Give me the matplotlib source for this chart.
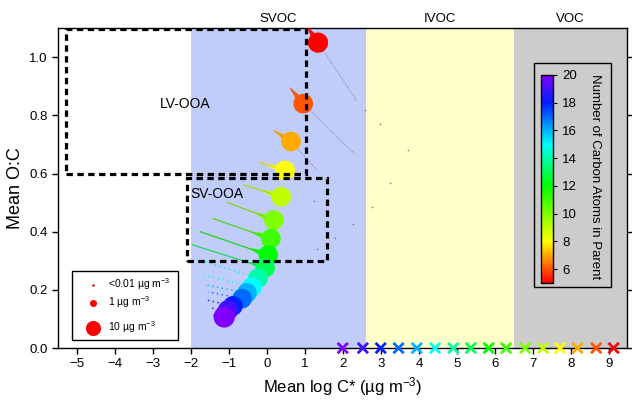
import numpy as np
import matplotlib
matplotlib.use("Agg")
import matplotlib.pyplot as plt
from matplotlib.colors import LinearSegmentedColormap, Normalize
from matplotlib.patches import Rectangle, Polygon

plt.rcParams['font.family'] = ['Liberation Sans', 'DejaVu Sans']
plt.rcParams['mathtext.fontset'] = 'custom'
plt.rcParams['mathtext.rm'] = 'Liberation Sans'
plt.rcParams['mathtext.default'] = 'regular'

# ----- Datos -----

# numero de carbonos del precursor
carbonos = [5, 6, 7, 8, 9, 10, 11, 12, 13, 14, 15, 16, 17, 18, 19, 20]

# posicion final (log C*, O:C) y masa (ug m-3) de cada precursor
logc_medio = [1.34, 0.95, 0.63, 0.47, 0.37, 0.18, 0.10, 0.03, -0.05, -0.24, -0.40, -0.53, -0.66, -0.90, -1.03, -1.13]
oc_medio = [1.05, 0.84, 0.71, 0.61, 0.52, 0.44, 0.376, 0.32, 0.276, 0.24, 0.21, 0.19, 0.17, 0.145, 0.13, 0.107]
masa = [24, 22, 22, 22, 22, 22, 22, 22, 22, 22, 22, 22, 22, 22, 24, 28]

# punta de la cola (productos de menor masa)
cola_x = [1.13, 0.63, 0.21, -0.18, -0.63, -1.03, -1.42, -1.76, -1.97, -1.63, -1.68, -1.63, -1.55, -1.63, -1.50, -1.45]
cola_y = [1.09, 0.89, 0.745, 0.638, 0.562, 0.50, 0.445, 0.40, 0.355, 0.297, 0.252, 0.217, 0.193, 0.166, 0.138, 0.114]
cola_ancho = [3, 3, 3, 3, 3.5, 3.5, 3.5, 3, 2, 0, 0, 0, 0, 0, 0, 0]

# estela gris hacia la derecha (C5-C7)
estela_x = [2.37, 2.32, 1.32]
estela_y = [0.848, 0.665, 0.61]

# puntos sueltos (<0.01 ug m-3)
sueltos_x = [2.58, 2.97, 3.71, 3.24, 2.76, 2.26, 1.24, 1.79, 1.32]
sueltos_y = [0.82, 0.77, 0.68, 0.566, 0.486, 0.428, 0.507, 0.379, 0.341]

# log C* del precursor (marcas x en el eje)
logc_precursor = [9.12, 8.66, 8.17, 7.71, 7.26, 6.79, 6.29, 5.83, 5.36, 4.90, 4.42, 3.94, 3.46, 2.99, 2.52, 1.99]

# regiones de volatilidad
regiones = ['SVOC', 'IVOC', 'VOC']
region_lim = [(-2.0, 2.6), (2.6, 6.5), (6.5, 9.47)]
region_color = ['#c0ccfa', '#ffffc8', '#cccccc']

leyenda_masa = [0.01, 1, 10]
leyenda_texto = ['<0.01 µg m$^{-3}$', '1 µg m$^{-3}$', '10 µg m$^{-3}$']

colores = LinearSegmentedColormap.from_list('arcoiris', [
    (0.0, '#ff0000'), (1 / 15, '#ff5500'), (2 / 15, '#ffaa00'), (3 / 15, '#ffff00'),
    (7 / 15, '#00ff00'), (10 / 15, '#00ffff'), (13 / 15, '#0020ff'), (1.0, '#8000ff')])
norma = Normalize(5, 20)


def tam_punto(m):
    # diametro ~ masa^(1/3), 10 ug -> 15 px
    d_px = np.maximum(7.0 * np.cbrt(np.asarray(m, dtype=float)), 2.5)
    return (d_px * 0.72) ** 2


# ----- Grafica -----

fig = plt.figure(figsize=(6.32, 4.01), dpi=100)
ax = fig.add_axes([0.092, 0.132, 0.900, 0.798])
ax.set_xlim(-5.5, 9.47)
ax.set_ylim(0, 1.1)

for nombre, (a, b), c in zip(regiones, region_lim, region_color):
    ax.axvspan(a, b, color=c, lw=0, zorder=0)
    ax.text((a + b) / 2, 1.01, nombre, transform=ax.get_xaxis_transform(),
            ha='center', va='bottom', fontsize=9.5)

# estelas grises y puntos sueltos
for i, (ex, ey) in enumerate(zip(estela_x, estela_y)):
    ax.plot([logc_medio[i], ex], [oc_medio[i], ey], color='gray', lw=0.7, ls=(0, (1, 1.5)), zorder=2)
ax.scatter(sueltos_x, sueltos_y, s=1.5, color='gray', zorder=2, lw=0)

# colas
fig.canvas.draw()
to_px = ax.transData
for i in range(len(carbonos)):
    col = colores(norma(carbonos[i]))
    if cola_ancho[i] > 0:
        c0 = to_px.transform((logc_medio[i], oc_medio[i]))
        t0 = to_px.transform((cola_x[i], cola_y[i]))
        v = t0 - c0
        v = v / np.hypot(*v)
        perp = np.array([-v[1], v[0]])
        base = c0 + v * 6
        pts = [base + perp * cola_ancho[i], c0 + v * 22, base - perp * cola_ancho[i]]
        pts_d = to_px.inverted().transform(pts)
        ax.add_patch(Polygon(pts_d, closed=True, color=col, lw=0, zorder=3))
        ax.plot([logc_medio[i], cola_x[i]], [oc_medio[i], cola_y[i]], color=col, lw=0.9, zorder=3)
        ax.plot([logc_medio[i], cola_x[i]], [oc_medio[i], cola_y[i]], color='gray', lw=0.5,
                alpha=0.6, zorder=3)
    else:
        ax.plot([logc_medio[i], cola_x[i]], [oc_medio[i], cola_y[i]], color=col, lw=1.0,
                ls=(0, (1, 2.5)), zorder=3)

# puntos principales (de C5 a C20 para que los azules queden encima)
ax.scatter(logc_medio, oc_medio, s=tam_punto(masa), c=carbonos, cmap=colores, norm=norma,
           lw=0, zorder=4)

# marcas del precursor
ax.scatter(logc_precursor, np.zeros(len(logc_precursor)), marker='x', s=55, lw=2,
           c=carbonos, cmap=colores, norm=norma, clip_on=False, zorder=6)

# cajas LV-OOA y SV-OOA
estilo = dict(fill=False, ec='black', lw=2.3, ls=(0, (2.0, 1.4)), zorder=5)
ax.add_patch(Rectangle((-5.3, 0.6), 6.33, 0.497, **estilo))
ax.add_patch(Rectangle((-2.1, 0.30), 3.68, 0.283, **estilo))
ax.text(-2.82, 0.84, 'LV-OOA', ha='left', va='center', fontsize=10, zorder=6)
ax.text(-2.03, 0.53, 'SV-OOA', ha='left', va='center', fontsize=10, zorder=6)

# leyenda de masa
ax.add_patch(Rectangle((0.0246, 0.025), 0.186, 0.215, transform=ax.transAxes,
                       fc='white', ec='black', lw=1, zorder=7))
for yy, m, t in zip([0.197, 0.141, 0.0625], leyenda_masa, leyenda_texto):
    ax.scatter([0.0615], [yy], s=tam_punto(m), color='red', lw=0, transform=ax.transAxes,
               zorder=8, clip_on=False)
    ax.text(0.088, yy + 0.003, t, transform=ax.transAxes, fontsize=7.5, va='center', zorder=8)

ax.set_xticks(range(-5, 10))
ax.set_yticks(np.arange(0, 1.01, 0.2))
ax.set_yticklabels([f'{v:.1f}' for v in np.arange(0, 1.01, 0.2)])
ax.tick_params(axis='both', direction='out', length=4, width=1, labelsize=9.5)
ax.tick_params(axis='y', right=True)
ax.set_xlabel('Mean log C* (µg m$^{-3}$)', fontsize=12, labelpad=3)
ax.set_ylabel('Mean O:C', fontsize=13, labelpad=4)
for s in ax.spines.values():
    s.set_linewidth(1)

# barra de color
fig.add_artist(Rectangle((0.845, 0.284), 0.122, 0.559, transform=fig.transFigure,
                         fill=False, ec='black', lw=1))
cax = fig.add_axes([0.856, 0.294, 0.019, 0.519])
sm = plt.cm.ScalarMappable(norm=norma, cmap=colores)
cb = fig.colorbar(sm, cax=cax, ticks=range(6, 21, 2))
cb.outline.set_linewidth(1)
cax.tick_params(labelsize=9.5, length=3, width=0.8)
fig.text(0.941, 0.56, 'Number of Carbon Atoms in Parent', rotation=270, ha='center',
         va='center', fontsize=9.5)

plt.savefig('out.png', dpi=100)
